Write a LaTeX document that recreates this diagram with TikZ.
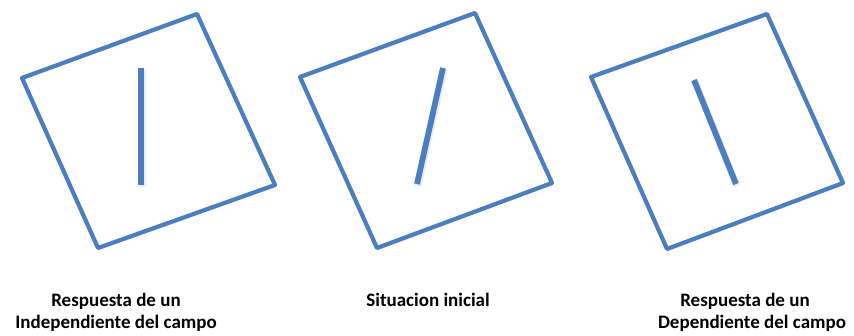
\documentclass[tikz,border=0pt]{standalone}
\usepackage{fontspec}
\setmainfont{Carlito}
\definecolor{boxblue}{RGB}{74,126,193}
\begin{document}
\begin{tikzpicture}[x=1pt,y=-1pt,
  frame/.style={draw=boxblue,line width=4.2pt,line join=round},
  rod/.style={draw=boxblue,line width=5.8pt},
  rodshadow/.style={draw=black!30,line width=7pt,opacity=0.25},
  lab/.style={font=\fontsize{19}{22}\selectfont\bfseries,anchor=base,inner sep=0pt,text=black}]
\useasboundingbox (0,0) rectangle (854,335);
% box 1
\coordinate (a1) at (22,78); \coordinate (b1) at (197,14);
\coordinate (c1) at (275,185); \coordinate (d1) at (98,248);
\draw[frame] (a1) -- (b1) -- (c1) -- (d1) -- cycle;
\coordinate (p1) at (141,68); \coordinate (q1) at (141,185);
\coordinate (p1s) at (142,69.5); \coordinate (q1s) at (142,187);
\draw[rodshadow] (p1s) -- (q1s);
\draw[rod] (p1) -- (q1);
% box 2
\coordinate (a2) at (300,77); \coordinate (b2) at (475,13);
\coordinate (c2) at (552,183); \coordinate (d2) at (377,248);
\draw[frame] (a2) -- (b2) -- (c2) -- (d2) -- cycle;
\coordinate (p2) at (443,68); \coordinate (q2) at (417,184);
\coordinate (p2s) at (444,69.5); \coordinate (q2s) at (418,186);
\draw[rodshadow] (p2s) -- (q2s);
\draw[rod] (p2) -- (q2);
% box 3
\coordinate (a3) at (591,77); \coordinate (b3) at (767,14);
\coordinate (c3) at (843,183); \coordinate (d3) at (667,249);
\draw[frame] (a3) -- (b3) -- (c3) -- (d3) -- cycle;
\coordinate (p3) at (694,80); \coordinate (q3) at (736,184);
\coordinate (p3s) at (695,81.5); \coordinate (q3s) at (737,186);
\draw[rodshadow] (p3s) -- (q3s);
\draw[rod] (p3) -- (q3);
% labels
\node[lab] (l1a) at (116,306) {Respuesta de un};
\node[lab] (l1b) at (116,328) {Independiente del campo};
\node[lab] (l2a) at (428,306) {Situacion inicial};
\node[lab] (l3a) at (745,306) {Respuesta de un};
\node[lab] (l3b) at (752,328) {Dependiente del campo};
\end{tikzpicture}
\end{document}
